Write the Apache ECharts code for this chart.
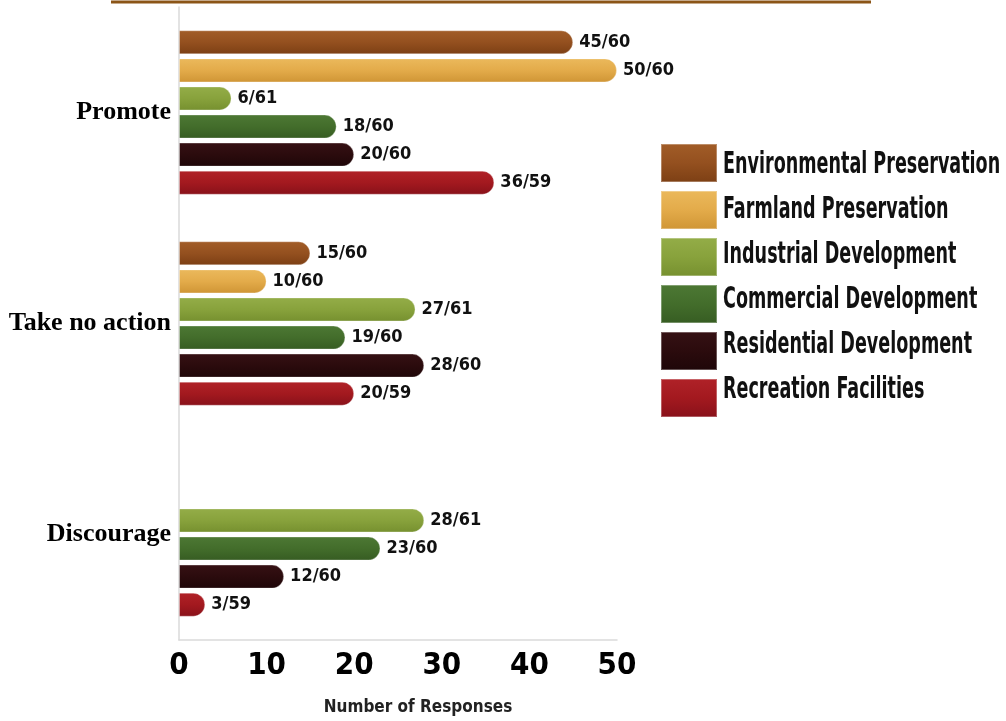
<!DOCTYPE html>
<html>
<head>
<meta charset="utf-8">
<script src="https://cdn.jsdelivr.net/npm/echarts@6/dist/echarts.min.js"></script>
<style>
  html, body { margin: 0; padding: 0; background: #ffffff; }
  #chart { width: 1006px; height: 721px; }
</style>
</head>
<body>
<div id="chart"></div>
<script>
// Survey answers per land-use category
const categories = ['Promote', 'Take no action', 'Discourage'];
const seriesNames = [
  'Environmental Preservation',
  'Farmland Preservation',
  'Industrial Development',
  'Commercial Development',
  'Residential Development',
  'Recreation Facilities'
];
// Responses per answer (null = question not asked)
const environmental = [45, 15, null];
const farmland      = [50, 10, null];
const industrial    = [6, 27, 28];
const commercial    = [18, 19, 23];
const residential   = [20, 28, 12];
const recreation    = [36, 20, 3];
// Total respondents for each series
const totals = [60, 60, 61, 60, 60, 59];
const xTicks = [0, 10, 20, 30, 40, 50];

const values = [environmental, farmland, industrial, commercial, residential, recreation];
const baseColors  = ['#94501f', '#e3ab4a', '#88a23c', '#436d2b', '#2b0b0d', '#a3191f'];
const lightColors = ['#a25d28', '#ebb95c', '#94ad48', '#4d7834', '#361114', '#b02228'];
const darkColors  = ['#7c3f14', '#cf9535', '#76902f', '#365c22', '#1e0608', '#88111a'];

const condensed = '"DejaVu Sans Condensed", "DejaVu Sans", sans-serif';

function tube(i) {
  return {
    type: 'linear', x: 0, y: 0, x2: 0, y2: 1,
    colorStops: [
      { offset: 0, color: lightColors[i] },
      { offset: 0.5, color: baseColors[i] },
      { offset: 1, color: darkColors[i] }
    ]
  };
}

const series = seriesNames.map((name, i) => ({
  name: name,
  type: 'bar',
  barWidth: 24,
  barGap: '17%',
  data: values[i],
  itemStyle: {
    color: tube(i),
    borderRadius: [0, 12, 12, 0],
    borderColor: 'rgba(255,255,255,0.3)',
    borderWidth: 1
  },
  label: {
    show: true,
    position: 'right',
    distance: 6,
    color: '#111',
    fontFamily: condensed,
    fontWeight: 'bold',
    fontSize: 18,
    formatter: p => p.value + '/' + totals[i]
  }
}));

// Legend captions: tall condensed lettering, squeezed horizontally
const legendTop = 138;
const legendStep = 45;
const legendCaptions = seriesNames.map((n, i) => ({
  type: 'text',
  x: 723,
  y: legendTop + 5 + 22 + i * legendStep,
  scaleX: 0.63,
  silent: true,
  style: {
    text: n,
    font: 'bold 31px ' + condensed,
    fill: '#111',
    textVerticalAlign: 'middle'
  }
}));

const chart = echarts.init(document.getElementById('chart'), null, { renderer: 'canvas' });
chart.setOption({
  animation: false,
  backgroundColor: '#ffffff',
  grid: { left: 179, right: 389, top: 7, bottom: 81, containLabel: false },
  legend: {
    orient: 'vertical',
    left: 655,
    top: legendTop,
    itemWidth: 56,
    itemHeight: 38,
    itemGap: 7,
    icon: 'rect',
    formatter: () => '',
    data: seriesNames.map((n, i) => ({ name: n, itemStyle: { color: tube(i) } })),
    textStyle: { fontSize: 1 }
  },
  xAxis: {
    type: 'value',
    min: 0,
    max: 50,
    interval: 10,
    name: 'Number of Responses',
    nameLocation: 'middle',
    nameGap: 59,
    nameTextStyle: {
      fontFamily: condensed,
      fontWeight: 'bold',
      fontSize: 17,
      color: '#222',
      padding: [0, 0, 0, 40]
    },
    splitLine: { show: false },
    axisTick: { show: false },
    axisLine: { show: true, lineStyle: { color: '#dadada', width: 1.5 } },
    axisLabel: {
      margin: 10,
      fontFamily: condensed,
      fontWeight: 'bold',
      fontSize: 31,
      color: '#000',
      formatter: v => (xTicks.includes(v) ? String(v) : '')
    }
  },
  yAxis: {
    type: 'category',
    inverse: true,
    data: categories,
    axisTick: { show: false },
    axisLine: { show: true, lineStyle: { color: '#dadada', width: 1.5 } },
    axisLabel: {
      margin: 8,
      fontFamily: '"Liberation Serif", "DejaVu Serif", serif',
      fontWeight: 'bold',
      fontSize: 26,
      color: '#000'
    }
  },
  graphic: [
    {
      type: 'line',
      shape: { x1: 111, y1: 2, x2: 871, y2: 2 },
      style: { stroke: '#8b5517', lineWidth: 3 }
    }
  ].concat(legendCaptions),
  series: series
});
</script>
</body>
</html>
